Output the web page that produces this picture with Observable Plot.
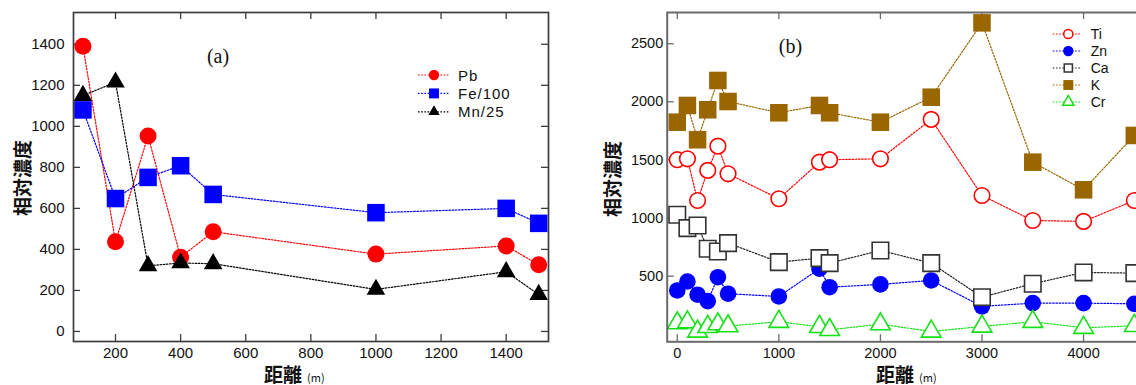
<!DOCTYPE html>
<html>
<head>
<meta charset="utf-8">
<script src="https://cdn.jsdelivr.net/npm/d3@7"></script>
<script src="https://cdn.jsdelivr.net/npm/@observablehq/plot@0.6"></script>
<style>
html, body { margin: 0; padding: 0; background: #fff; overflow: hidden; }
#wrap { position: relative; width: 1136px; height: 385px; overflow: hidden; background: #fff; }
#wrap svg { position: absolute; top: 0; }
</style>
</head>
<body>
<div id="wrap"></div>
<script>
// ---------- Panel (a) data ----------
const distA = [100, 200, 300, 400, 500, 1000, 1400, 1500];
const pb    = [1390, 437, 953, 362, 486, 377, 417, 325];
const fe100 = [1080, 648, 751, 808, 668, 579, 600, 527];
const mn25  = [1150, 1215, 320, 334, 330, 205, 291, 180];
const namesA = ["Pb", "Fe/100", "Mn/25"];
const xTicksA = [200, 400, 600, 800, 1000, 1200, 1400];
const yTicksA = [0, 200, 400, 600, 800, 1000, 1200, 1400];

// ---------- Panel (b) data ----------
const distB = [0, 100, 200, 300, 400, 500, 1000, 1400, 1500, 2000, 2500, 3000, 3500, 4000, 4500];
const ti = [1502, 1510, 1151, 1410, 1619, 1381, 1166, 1481, 1502, 1510, 1849, 1194, 979, 971, 1151];
const zn = [377, 454, 340, 285, 491, 349, 325, 564, 405, 429, 463, 240, 268, 268, 262];
const ca = [1028, 913, 936, 736, 712, 784, 621, 655, 612, 721, 612, 319, 435, 532, 526];
const kk = [1825, 1969, 1674, 1932, 2184, 2003, 1906, 1969, 1906, 1825, 2040, 2680, 1481, 1243, 1711];
const cr = [96, 104, 24, 64, 87, 70, 108, 64, 38, 87, 24, 67, 108, 56, 73];
const namesB = ["Ti", "Zn", "Ca", "K", "Cr"];
const xTicksB = [0, 1000, 2000, 3000, 4000];
const yTicksB = [500, 1000, 1500, 2000, 2500];

const yTitle = "相対濃度";
const xTitle = "距離";
const xUnit = "(m)";

const H = 385;
const table = (xs, ys) => xs.map((x, i) => ({x, y: ys[i]}));

const seriesA = [
  {name: namesA[0], data: table(distA, pb),    color: "#ff0000", symbol: "circle",   r: 8.5, fill: "#ff0000", lr: 5.2},
  {name: namesA[1], data: table(distA, fe100), color: "#0000ff", symbol: "square",   r: 9.9, fill: "#0000ff", lr: 5.6},
  {name: namesA[2], data: table(distA, mn25),  color: "#000000", symbol: "triangle", r: 6.9, fill: "#000000", lr: 4.2}
];
const seriesB = [
  {name: namesB[0], data: table(distB, ti), color: "#ff0000", symbol: "circle",   r: 7.8, fill: "#ffffff", lr: 4.6},
  {name: namesB[1], data: table(distB, zn), color: "#0000ff", symbol: "circle",   r: 8.3, fill: "#0000ff", lr: 5.2},
  {name: namesB[2], data: table(distB, ca), color: "#222222", symbol: "square",   r: 9.3, fill: "#ffffff", lr: 4.6, stroke: "#333"},
  {name: namesB[3], data: table(distB, kk), color: "#996600", symbol: "square",   r: 9.9, fill: "#996600", lr: 5.6},
  {name: namesB[4], data: table(distB, cr), color: "#16e016", symbol: "triangle", r: 7.3, fill: "#ffffff", lr: 4.2}
];

function makePanel(cfg) {
  const innerW = cfg.width - cfg.marginLeft - cfg.marginRight;
  const innerH = H - cfg.marginTop - cfg.marginBottom;
  const tk = {stroke: cfg.frame, strokeWidth: 1.3};
  const marks = [
    Plot.tickX(cfg.xTicks, {x: d => d, insetTop: innerH - 7, ...tk}),
    Plot.tickX(cfg.xTicks, {x: d => d, insetBottom: innerH - 7, ...tk}),
    Plot.tickY(cfg.yTicks, {y: d => d, insetRight: innerW - 7, ...tk}),
    Plot.tickY(cfg.yTicks, {y: d => d, insetLeft: innerW - 7, ...tk}),
    Plot.axisX(cfg.xTicks, {tickSize: 0, tickPadding: cfg.xPad, tickFormat: d => String(d), label: null,
      fontSize: cfg.tickFont, fontFamily: cfg.tickFamily, fill: "#111"}),
    Plot.axisY(cfg.yTicks, {tickSize: 0, tickPadding: cfg.yPad, tickFormat: d => String(d), label: null,
      fontSize: cfg.tickFont, fontFamily: cfg.tickFamily, fill: "#111"})
  ];
  for (const s of cfg.series) {
    marks.push(Plot.line(s.data, {x: "x", y: "y", stroke: s.color, strokeWidth: 1.2, strokeDasharray: "1.6,1.6"}));
  }
  for (const s of cfg.series) {
    const hollow = s.fill === "#ffffff";
    marks.push(Plot.dot(s.data, {x: "x", y: "y", symbol: s.symbol, r: s.r, fill: s.fill,
      stroke: hollow ? (s.stroke || s.color) : "none", strokeWidth: hollow ? 1.6 : 0}));
  }
  marks.push(Plot.frame({stroke: cfg.frame, strokeWidth: cfg.frameWidth}));
  return Plot.plot({
    width: cfg.width, height: H,
    marginLeft: cfg.marginLeft, marginRight: cfg.marginRight,
    marginTop: cfg.marginTop, marginBottom: cfg.marginBottom,
    x: {type: "linear", domain: cfg.xDomain},
    y: {type: "linear", domain: cfg.yDomain},
    style: {background: "none", overflow: "visible", maxWidth: "none", fontFamily: "Liberation Sans, Arial, sans-serif"},
    marks
  });
}

function decorate(svg, cfg) {
  const g = d3.select(svg).append("g").attr("text-anchor", "start");
  // y title
  g.append("text")
    .attr("transform", `translate(${cfg.yTitleX},${cfg.yTitleY}) rotate(-90)`)
    .attr("text-anchor", "middle").attr("dominant-baseline", "central")
    .attr("font-family", "Noto Sans CJK JP").attr("font-weight", "bold").attr("font-size", 19)
    .attr("fill", "#111").text(yTitle);
  // x title
  const t = g.append("text").attr("x", cfg.xTitleX).attr("y", 381.5).attr("text-anchor", "start")
    .attr("font-family", "Noto Sans CJK JP").attr("font-weight", "bold").attr("font-size", 19).attr("fill", "#111");
  t.append("tspan").text(xTitle);
  t.append("tspan").attr("dx", 5).attr("font-size", 11).attr("font-weight", "normal").text(xUnit);
  // panel tag
  g.append("text").attr("x", cfg.tagX).attr("y", cfg.tagY).attr("text-anchor", "middle")
    .attr("font-family", "Liberation Serif, Times New Roman, serif").attr("font-size", 20).attr("fill", "#111")
    .text(cfg.tag);
  // legend
  cfg.series.forEach((s, i) => {
    const y = cfg.legY + i * cfg.legDy;
    g.append("line").attr("x1", cfg.legX1).attr("x2", cfg.legX2).attr("y1", y).attr("y2", y)
      .attr("stroke", s.color).attr("stroke-width", 1.2).attr("stroke-dasharray", "1.6,1.6");
    const sym = {circle: d3.symbolCircle, square: d3.symbolSquare, triangle: d3.symbolTriangle}[s.symbol];
    const hollow = s.fill === "#ffffff";
    g.append("path").attr("d", d3.symbol(sym, Math.PI * s.lr * s.lr)())
      .attr("transform", `translate(${cfg.legM},${y})`)
      .attr("fill", s.fill).attr("stroke", hollow ? (s.stroke || s.color) : "none").attr("stroke-width", 1.5);
    g.append("text").attr("x", cfg.legT).attr("y", y).attr("dominant-baseline", "central")
      .attr("text-anchor", "start")
      .attr("font-family", "Liberation Sans, Arial, sans-serif").attr("font-size", cfg.legFont)
      .attr("letter-spacing", cfg.legSpacing).attr("fill", "#111").text(s.name);
  });
}

const cfgA = {
  width: 560, marginLeft: 73, marginRight: 12, marginTop: 12, marginBottom: 44,
  xDomain: [71, 1530], yDomain: [-49, 1555], xTicks: xTicksA, yTicks: yTicksA,
  frame: "#3c3c3c", frameWidth: 1.7, tickFont: 15, tickFamily: "Liberation Sans Narrow, Liberation Sans, Arial, sans-serif",
  xPad: 6, yPad: 9, series: seriesA,
  yTitleX: 21, yTitleY: 178, xTitleX: 264, tag: "(a)", tagX: 218, tagY: 63,
  legY: 75, legDy: 18.4, legX1: 418, legX2: 449, legM: 434, legT: 458, legFont: 15, legSpacing: 1
};
const cfgB = {
  width: 573, marginLeft: 86.7, marginRight: 10, marginTop: 12, marginBottom: 43.7,
  xDomain: [-99, 4590], yDomain: [-65, 2769], xTicks: xTicksB, yTicks: yTicksB,
  frame: "#6a6a6a", frameWidth: 2, tickFont: 14.5, tickFamily: "Liberation Sans, Arial, sans-serif",
  xPad: 6, yPad: 4, series: seriesB,
  yTitleX: 31, yTitleY: 179, xTitleX: 296, tag: "(b)", tagX: 210.5, tagY: 53,
  legY: 34, legDy: 17, legX1: 472.7, legX2: 501.7, legM: 488.3, legT: 510.7, legFont: 14, legSpacing: 0
};

const wrap = document.getElementById("wrap");
const svgA = makePanel(cfgA);
svgA.style.left = "0px";
decorate(svgA, cfgA);
wrap.appendChild(svgA);
const svgB = makePanel(cfgB);
svgB.style.left = "580px";
decorate(svgB, cfgB);
wrap.appendChild(svgB);
</script>
</body>
</html>
